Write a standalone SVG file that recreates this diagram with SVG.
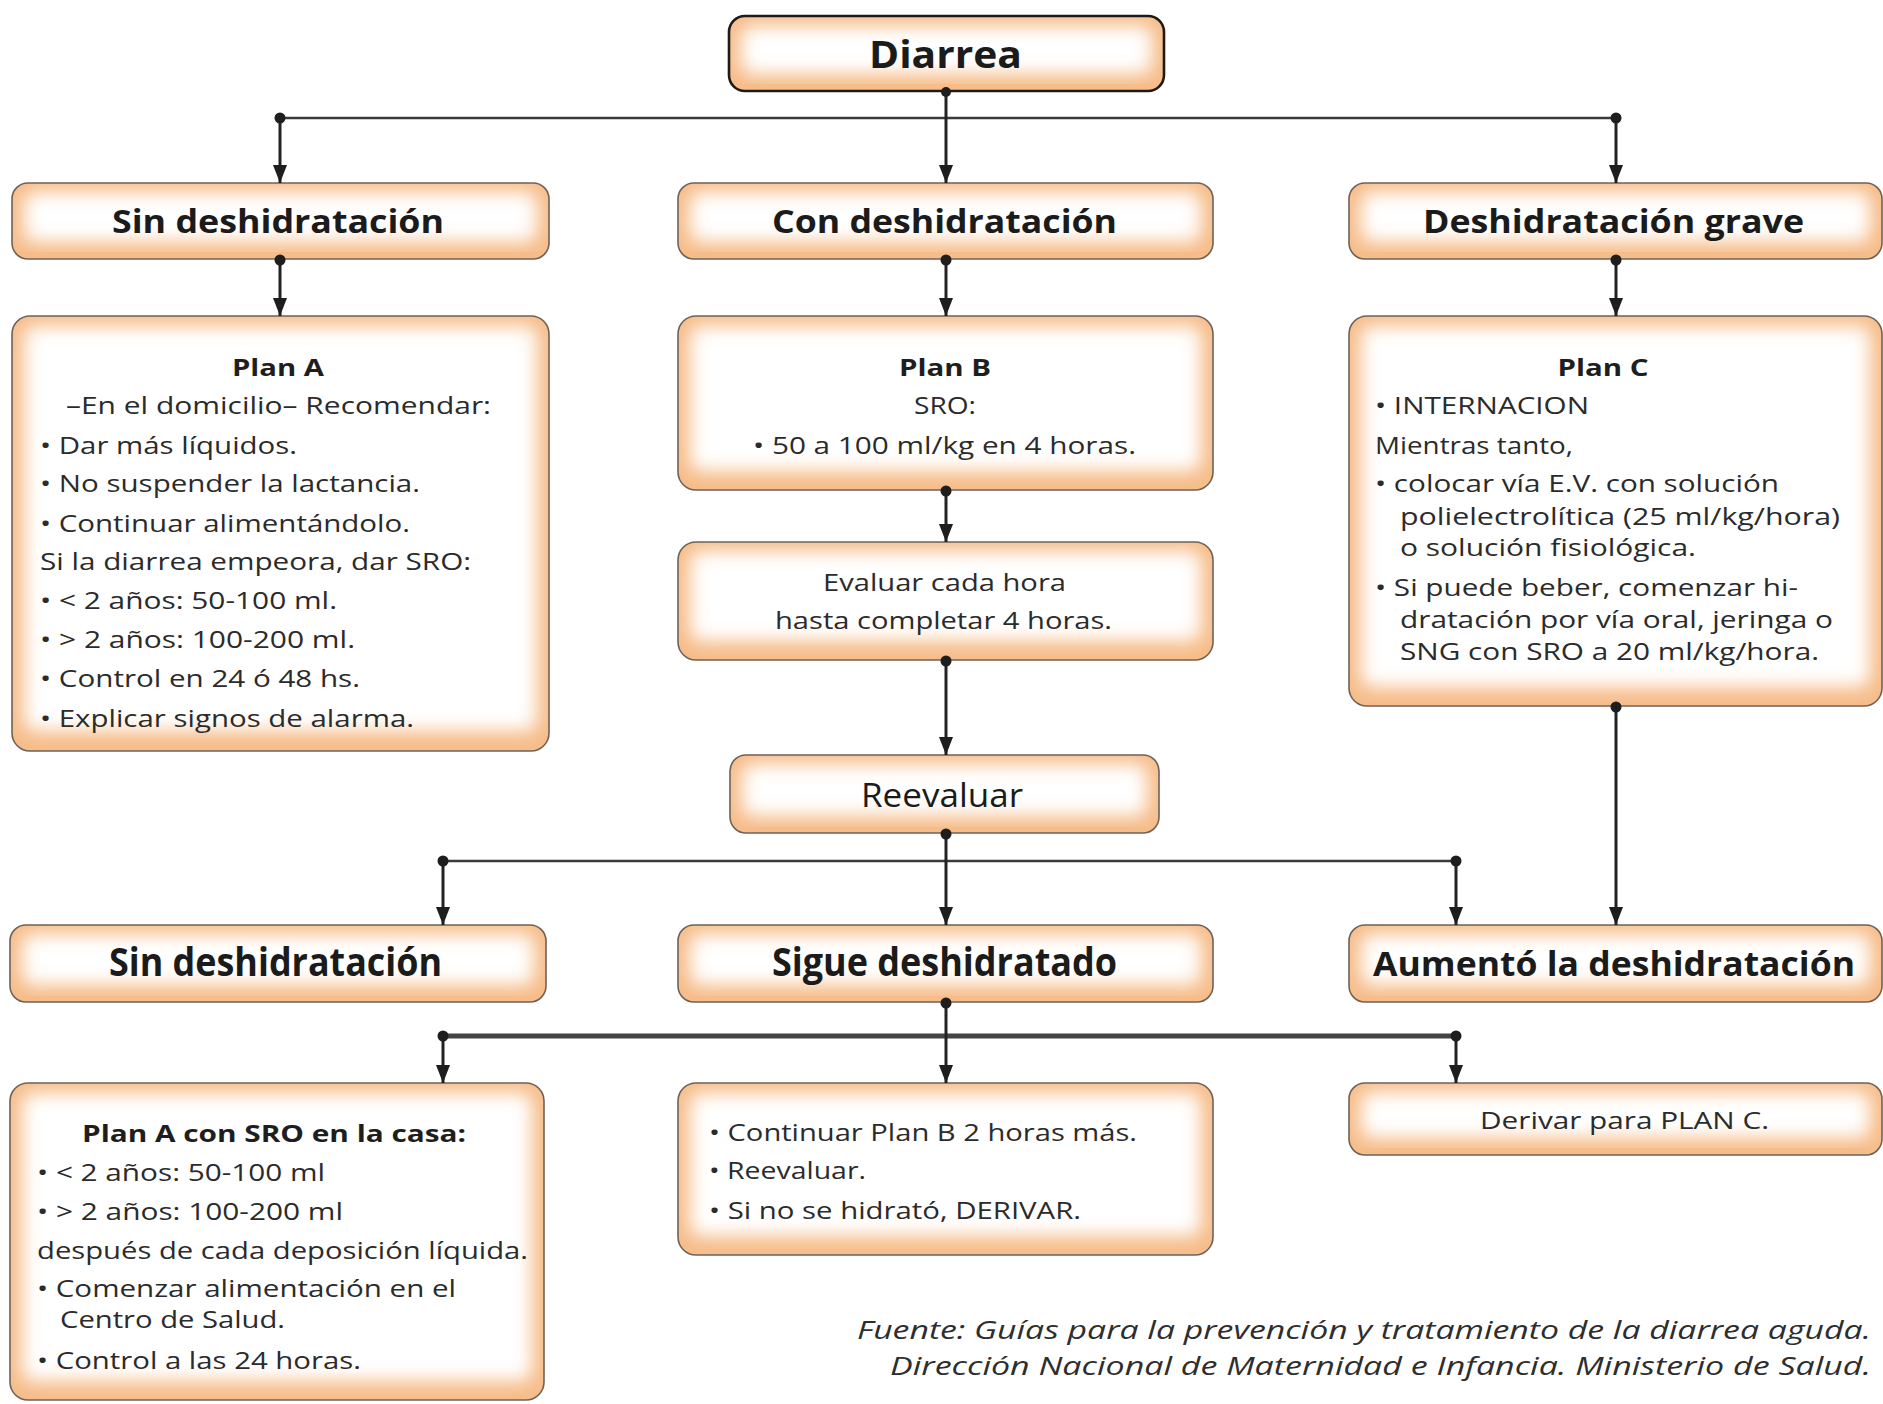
<svg xmlns="http://www.w3.org/2000/svg" width="1883" height="1404" viewBox="0 0 1883 1404">
<style>
.bg{fill:#f6bc89}
.glow{fill:#ffffff;filter:url(#blur)}
.edge{fill:none;stroke:#6e6258;stroke-width:1.6}
.edge.strong{stroke:#1e1a17;stroke-width:2.6}
.hd{font-family:"Open Sans","Noto Sans",sans-serif;font-weight:bold;fill:#1b1b1b}
.tx{font-family:"Open Sans","Noto Sans",sans-serif;font-size:23px;fill:#2b2b2b}
.tb{font-family:"Open Sans","Noto Sans",sans-serif;font-size:24px;font-weight:bold;fill:#1e1e1e}
.ft{font-family:"Open Sans","Noto Sans",sans-serif;font-size:26px;font-style:italic;fill:#2e2e2e}
.ln{stroke:#222;stroke-width:3;fill:none}
.hz{stroke:#3a3a3a;stroke-width:2.6;fill:none}
.hzb{stroke:#444;stroke-width:5;fill:none}
.arr{marker-end:url(#ah)}
.dot{fill:#1e1e1e}
</style>
<defs>
<filter id="blur" x="-20%" y="-20%" width="140%" height="140%"><feGaussianBlur stdDeviation="9"/></filter>
<marker id="ah" viewBox="0 0 18 14" refX="18" refY="7" markerWidth="18" markerHeight="14" markerUnits="userSpaceOnUse" orient="auto"><path d="M0,0 L18,7 L0,14 z" fill="#1e1e1e"/></marker>
</defs>

<g id="n-diarrea">
<rect class="bg" x="729" y="16" width="435" height="75" rx="16"/>
<rect class="glow" x="741" y="26" width="411" height="48" rx="10"/>
<rect class="edge strong" x="729" y="16" width="435" height="75" rx="16"/>
<text class="hd" x="945.5" y="68" font-size="38" text-anchor="middle" textLength="153" lengthAdjust="spacingAndGlyphs">Diarrea</text>
</g>

<g id="n-sin1">
<rect class="bg" x="12" y="183" width="537" height="76" rx="16"/>
<rect class="glow" x="24" y="192" width="513" height="50" rx="10"/>
<rect class="edge" x="12" y="183" width="537" height="76" rx="16"/>
<text class="hd" x="112" y="233" font-size="32" textLength="332" lengthAdjust="spacingAndGlyphs">Sin deshidratación</text>
</g>

<g id="n-con">
<rect class="bg" x="678" y="183" width="535" height="76" rx="16"/>
<rect class="glow" x="690" y="192" width="511" height="50" rx="10"/>
<rect class="edge" x="678" y="183" width="535" height="76" rx="16"/>
<text class="hd" x="772" y="233" font-size="32" textLength="345" lengthAdjust="spacingAndGlyphs">Con deshidratación</text>
</g>

<g id="n-grave">
<rect class="bg" x="1349" y="183" width="533" height="76" rx="16"/>
<rect class="glow" x="1361" y="192" width="509" height="50" rx="10"/>
<rect class="edge" x="1349" y="183" width="533" height="76" rx="16"/>
<text class="hd" x="1423" y="233" font-size="32" textLength="381" lengthAdjust="spacingAndGlyphs">Deshidratación grave</text>
</g>

<g id="n-planA">
<rect class="bg" x="12" y="316" width="537" height="435" rx="18"/>
<rect class="glow" x="24" y="326" width="513" height="405" rx="10"/>
<rect class="edge" x="12" y="316" width="537" height="435" rx="18"/>
<text class="tb" x="278" y="376" text-anchor="middle" textLength="92" lengthAdjust="spacingAndGlyphs">Plan A</text>
<text class="tx" x="66" y="414" textLength="425" lengthAdjust="spacingAndGlyphs">–En el domicilio– Recomendar:</text>
<text class="tx" x="40" y="454" textLength="257" lengthAdjust="spacingAndGlyphs">• Dar más líquidos.</text>
<text class="tx" x="40" y="492" textLength="380" lengthAdjust="spacingAndGlyphs">• No suspender la lactancia.</text>
<text class="tx" x="40" y="532" textLength="370" lengthAdjust="spacingAndGlyphs">• Continuar alimentándolo.</text>
<text class="tx" x="40" y="570" textLength="431" lengthAdjust="spacingAndGlyphs">Si la diarrea empeora, dar SRO:</text>
<text class="tx" x="40" y="609" textLength="297" lengthAdjust="spacingAndGlyphs">• &lt; 2 años: 50-100 ml.</text>
<text class="tx" x="40" y="648" textLength="315" lengthAdjust="spacingAndGlyphs">• &gt; 2 años: 100-200 ml.</text>
<text class="tx" x="40" y="687" textLength="320" lengthAdjust="spacingAndGlyphs">• Control en 24 ó 48 hs.</text>
<text class="tx" x="40" y="727" textLength="374" lengthAdjust="spacingAndGlyphs">• Explicar signos de alarma.</text>
</g>

<g id="n-planB">
<rect class="bg" x="678" y="316" width="535" height="174" rx="18"/>
<rect class="glow" x="690" y="326" width="511" height="145" rx="10"/>
<rect class="edge" x="678" y="316" width="535" height="174" rx="18"/>
<text class="tb" x="945" y="376" text-anchor="middle" textLength="92" lengthAdjust="spacingAndGlyphs">Plan B</text>
<text class="tx" x="945" y="414" text-anchor="middle" textLength="62" lengthAdjust="spacingAndGlyphs">SRO:</text>
<text class="tx" x="753" y="454" textLength="383" lengthAdjust="spacingAndGlyphs">• 50 a 100 ml/kg en 4 horas.</text>
</g>

<g id="n-evaluar">
<rect class="bg" x="678" y="542" width="535" height="118" rx="18"/>
<rect class="glow" x="690" y="551" width="511" height="90" rx="10"/>
<rect class="edge" x="678" y="542" width="535" height="118" rx="18"/>
<text class="tx" x="944.5" y="591" text-anchor="middle" textLength="243" lengthAdjust="spacingAndGlyphs">Evaluar cada hora</text>
<text class="tx" x="943.5" y="629" text-anchor="middle" textLength="337" lengthAdjust="spacingAndGlyphs">hasta completar 4 horas.</text>
</g>

<g id="n-planC">
<rect class="bg" x="1349" y="316" width="533" height="390" rx="18"/>
<rect class="glow" x="1361" y="326" width="509" height="361" rx="10"/>
<rect class="edge" x="1349" y="316" width="533" height="390" rx="18"/>
<text class="tb" x="1603" y="376" text-anchor="middle" textLength="91" lengthAdjust="spacingAndGlyphs">Plan C</text>
<text class="tx" x="1375" y="414" textLength="214" lengthAdjust="spacingAndGlyphs">• INTERNACION</text>
<text class="tx" x="1375" y="454" textLength="198" lengthAdjust="spacingAndGlyphs">Mientras tanto,</text>
<text class="tx" x="1375" y="492" textLength="404" lengthAdjust="spacingAndGlyphs">• colocar vía E.V. con solución</text>
<text class="tx" x="1400" y="525" textLength="440" lengthAdjust="spacingAndGlyphs">polielectrolítica (25 ml/kg/hora)</text>
<text class="tx" x="1400" y="556" textLength="296" lengthAdjust="spacingAndGlyphs">o solución fisiológica.</text>
<text class="tx" x="1375" y="596" textLength="423" lengthAdjust="spacingAndGlyphs">• Si puede beber, comenzar hi-</text>
<text class="tx" x="1400" y="628" textLength="433" lengthAdjust="spacingAndGlyphs">dratación por vía oral, jeringa o</text>
<text class="tx" x="1400" y="660" textLength="419" lengthAdjust="spacingAndGlyphs">SNG con SRO a 20 ml/kg/hora.</text>
</g>

<g id="n-reevaluar">
<rect class="bg" x="730" y="755" width="429" height="78" rx="16"/>
<rect class="glow" x="742" y="764" width="405" height="52" rx="10"/>
<rect class="edge" x="730" y="755" width="429" height="78" rx="16"/>
<text class="hd" x="861" y="807" font-size="33" textLength="162" lengthAdjust="spacingAndGlyphs" style="font-weight:normal">Reevaluar</text>
</g>

<g id="n-sin2">
<rect class="bg" x="10" y="925" width="536" height="77" rx="16"/>
<rect class="glow" x="22" y="934" width="512" height="51" rx="10"/>
<rect class="edge" x="10" y="925" width="536" height="77" rx="16"/>
<text class="hd" x="109" y="976" font-size="40" textLength="333" lengthAdjust="spacingAndGlyphs">Sin deshidratación</text>
</g>

<g id="n-sigue">
<rect class="bg" x="678" y="925" width="535" height="77" rx="16"/>
<rect class="glow" x="690" y="934" width="511" height="51" rx="10"/>
<rect class="edge" x="678" y="925" width="535" height="77" rx="16"/>
<text class="hd" x="772" y="976" font-size="40" textLength="345" lengthAdjust="spacingAndGlyphs">Sigue deshidratado</text>
</g>

<g id="n-aumento">
<rect class="bg" x="1349" y="925" width="533" height="77" rx="16"/>
<rect class="glow" x="1361" y="934" width="509" height="51" rx="10"/>
<rect class="edge" x="1349" y="925" width="533" height="77" rx="16"/>
<text class="hd" x="1373" y="976" font-size="34" textLength="482" lengthAdjust="spacingAndGlyphs">Aumentó la deshidratación</text>
</g>

<g id="n-planAsro">
<rect class="bg" x="10" y="1083" width="534" height="317" rx="18"/>
<rect class="glow" x="22" y="1093" width="510" height="288" rx="10"/>
<rect class="edge" x="10" y="1083" width="534" height="317" rx="18"/>
<text class="tb" x="82" y="1142" textLength="384" lengthAdjust="spacingAndGlyphs">Plan A con SRO en la casa:</text>
<text class="tx" x="37" y="1181" textLength="288" lengthAdjust="spacingAndGlyphs">• &lt; 2 años: 50-100 ml</text>
<text class="tx" x="37" y="1220" textLength="306" lengthAdjust="spacingAndGlyphs">• &gt; 2 años: 100-200 ml</text>
<text class="tx" x="37" y="1259" textLength="491" lengthAdjust="spacingAndGlyphs">después de cada deposición líquida.</text>
<text class="tx" x="37" y="1297" textLength="419" lengthAdjust="spacingAndGlyphs">• Comenzar alimentación en el</text>
<text class="tx" x="60" y="1328" textLength="225" lengthAdjust="spacingAndGlyphs">Centro de Salud.</text>
<text class="tx" x="37" y="1369" textLength="324" lengthAdjust="spacingAndGlyphs">• Control a las 24 horas.</text>
</g>

<g id="n-continuar">
<rect class="bg" x="678" y="1083" width="535" height="172" rx="18"/>
<rect class="glow" x="690" y="1093" width="511" height="143" rx="10"/>
<rect class="edge" x="678" y="1083" width="535" height="172" rx="18"/>
<text class="tx" x="709" y="1141" textLength="428" lengthAdjust="spacingAndGlyphs">• Continuar Plan B 2 horas más.</text>
<text class="tx" x="709" y="1179" textLength="157" lengthAdjust="spacingAndGlyphs">• Reevaluar.</text>
<text class="tx" x="709" y="1219" textLength="372" lengthAdjust="spacingAndGlyphs">• Si no se hidrató, DERIVAR.</text>
</g>

<g id="n-derivar">
<rect class="bg" x="1349" y="1083" width="533" height="72" rx="16"/>
<rect class="glow" x="1361" y="1092" width="509" height="46" rx="10"/>
<rect class="edge" x="1349" y="1083" width="533" height="72" rx="16"/>
<text class="tx" x="1480" y="1129" textLength="289" lengthAdjust="spacingAndGlyphs">Derivar para PLAN C.</text>
</g>

<g id="footer">
<text class="ft" x="1871" y="1339" text-anchor="end" textLength="1014" lengthAdjust="spacingAndGlyphs">Fuente: Guías para la prevención y tratamiento de la diarrea aguda.</text>
<text class="ft" x="1871" y="1375" text-anchor="end" textLength="981" lengthAdjust="spacingAndGlyphs">Dirección Nacional de Maternidad e Infancia. Ministerio de Salud.</text>
</g>

<g id="connectors">
<line class="hz" x1="280" y1="118" x2="1616" y2="118"/>
<line class="ln arr" x1="946" y1="91" x2="946" y2="183"/>
<line class="ln arr" x1="280" y1="118" x2="280" y2="183"/>
<line class="ln arr" x1="1616" y1="118" x2="1616" y2="183"/>
<circle class="dot" cx="946" cy="92" r="5"/>
<circle class="dot" cx="280" cy="118" r="5.5"/>
<circle class="dot" cx="1616" cy="118" r="5.5"/>

<line class="ln arr" x1="280" y1="259" x2="280" y2="316"/>
<line class="ln arr" x1="946" y1="259" x2="946" y2="316"/>
<line class="ln arr" x1="1616" y1="259" x2="1616" y2="316"/>
<circle class="dot" cx="280" cy="260" r="5.5"/>
<circle class="dot" cx="946" cy="260" r="5.5"/>
<circle class="dot" cx="1616" cy="260" r="5.5"/>

<line class="ln arr" x1="946" y1="490" x2="946" y2="542"/>
<circle class="dot" cx="946" cy="491" r="5.5"/>
<line class="ln arr" x1="946" y1="660" x2="946" y2="755"/>
<circle class="dot" cx="946" cy="661" r="5.5"/>

<line class="ln arr" x1="1616" y1="706" x2="1616" y2="925"/>
<circle class="dot" cx="1616" cy="707" r="5.5"/>

<line class="hz" x1="443" y1="861" x2="1456" y2="861"/>
<line class="ln arr" x1="946" y1="833" x2="946" y2="925"/>
<line class="ln arr" x1="443" y1="861" x2="443" y2="925"/>
<line class="ln arr" x1="1456" y1="861" x2="1456" y2="925"/>
<circle class="dot" cx="946" cy="834" r="5.5"/>
<circle class="dot" cx="443" cy="861" r="5.5"/>
<circle class="dot" cx="1456" cy="861" r="5.5"/>

<line class="hzb" x1="443" y1="1036" x2="1456" y2="1036"/>
<line class="ln arr" x1="946" y1="1002" x2="946" y2="1083"/>
<line class="ln arr" x1="443" y1="1036" x2="443" y2="1083"/>
<line class="ln arr" x1="1456" y1="1036" x2="1456" y2="1083"/>
<circle class="dot" cx="946" cy="1003" r="5.5"/>
<circle class="dot" cx="443" cy="1036" r="5.5"/>
<circle class="dot" cx="1456" cy="1036" r="5.5"/>
</g>
</svg>
